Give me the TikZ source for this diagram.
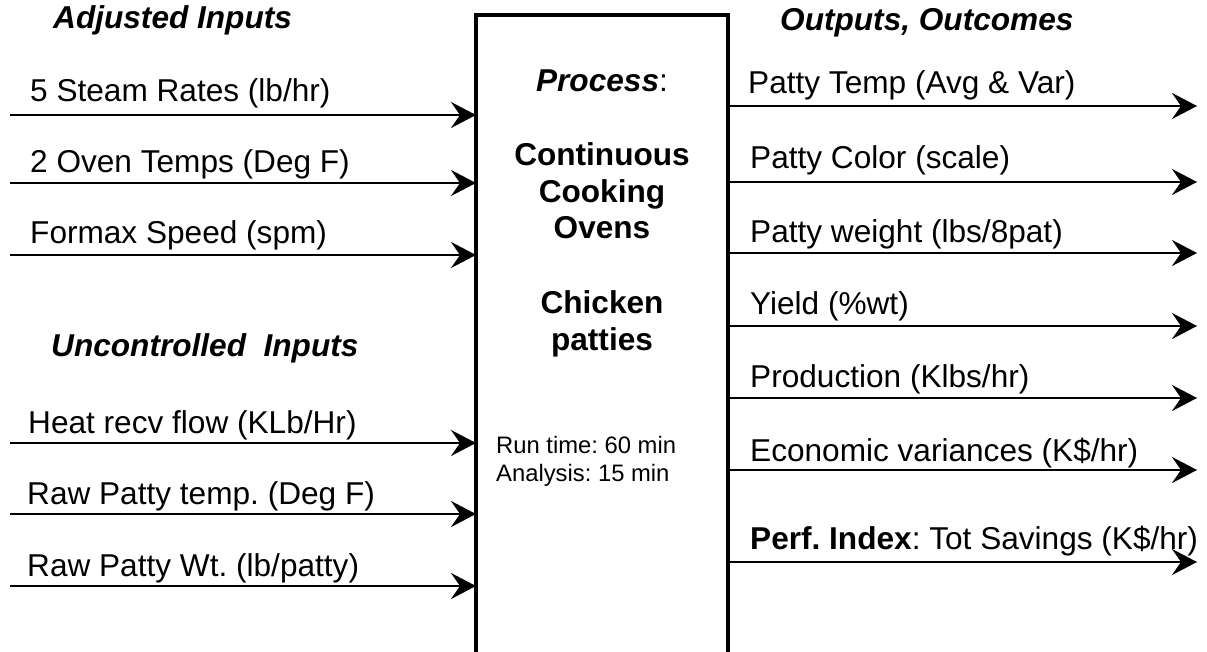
\documentclass[tikz,border=0pt]{standalone}
\usepackage{fontspec}
\setmainfont{Liberation Sans}
\usetikzlibrary{arrows.meta}
\frenchspacing
\begin{document}
\begin{tikzpicture}[x=1pt,y={(0pt,-1pt)},
  lbl/.style={anchor=base west, inner sep=0pt, font=\fontsize{31.6}{36.8}\selectfont},
  head/.style={anchor=base west, inner sep=0pt, font=\fontsize{31.6}{36.8}\selectfont\bfseries\itshape},
  boxtxt/.style={anchor=base, inner sep=0pt, font=\fontsize{31.6}{36.8}\selectfont\bfseries},
  arr/.style={line width=2.5pt, -{Stealth[length=25pt,width=26pt,inset=9pt]}},
  procbox/.style={draw, line width=4pt, rectangle, outer sep=0pt, inner sep=0pt, minimum width=252pt, minimum height=680pt, anchor=north west}
]
\frenchspacing
\useasboundingbox (0,0) rectangle (1207,652);
\node[procbox] (box) at (476,15) {};

% headings
\node[head] (hadj) at (53,29) {Adjusted Inputs};
\node[head] (hunc) at (51,356) {Uncontrolled\ \ Inputs};
\node[head] (hout) at (780,31) {Outputs, Outcomes};

% box text
\node[boxtxt] (p1) at (602,92) {\textit{Process}\mdseries:};
\node[boxtxt] (p2) at (602,166) {Continuous};
\node[boxtxt] (p3) at (602,203) {Cooking};
\node[boxtxt] (p4) at (602,239) {Ovens};
\node[boxtxt] (p5) at (602,313) {Chicken};
\node[boxtxt] (p6) at (602,350) {patties};
\node[anchor=base west, inner sep=0pt, align=left, font=\fontsize{23.8}{28}\selectfont] (rtime) at (496,453)
  {Run time: 60 min};
\node[anchor=base west, inner sep=0pt, align=left, font=\fontsize{23.8}{28}\selectfont] (atime) at (496,481)
  {Analysis: 15 min};

% input start points
\coordinate (i1) at (10,115);
\coordinate (i2) at (10,183);
\coordinate (i3) at (10,255);
\coordinate (i4) at (10,443);
\coordinate (i5) at (10,514);
\coordinate (i6) at (10,586);
% output end points
\coordinate (o1) at (1197,106);
\coordinate (o2) at (1197,182);
\coordinate (o3) at (1197,253);
\coordinate (o4) at (1197,326);
\coordinate (o5) at (1197,398);
\coordinate (o6) at (1197,470);
\coordinate (o7) at (1197,562);

\foreach \i in {1,...,6} { \draw[arr] (i\i) -- (box.west |- i\i); }
\foreach \i in {1,...,7} { \draw[arr] (box.east |- o\i) -- (o\i); }

% input labels
\node[lbl] (l1) at (30,102) {5 Steam Rates (lb/hr)};
\node[lbl] (l2) at (30,173) {2 Oven Temps (Deg F)};
\node[lbl] (l3) at (30,244) {Formax Speed (spm)};
\node[lbl] (l4) at (28,433) {Heat recv flow (KLb/Hr)};
\node[lbl] (l5) at (27,504) {Raw Patty temp. (Deg F)};
\node[lbl] (l6) at (27,576) {Raw Patty Wt. (lb/patty)};

% output labels
\node[lbl] (r1) at (748,94) {Patty Temp (Avg \& Var)};
\node[lbl] (r2) at (750,169) {Patty Color (scale)};
\node[lbl] (r3) at (750,243) {Patty weight (lbs/8pat)};
\node[lbl] (r4) at (750,314) {Yield (\%wt)};
\node[lbl] (r5) at (750,387) {Production (Klbs/hr)};
\node[lbl] (r6) at (750,461) {Economic variances (K\$/hr)};
\node[lbl] (r7) at (750,549) {\textbf{Perf. Index}: Tot Savings (K\$/hr)};
\end{tikzpicture}
\end{document}
